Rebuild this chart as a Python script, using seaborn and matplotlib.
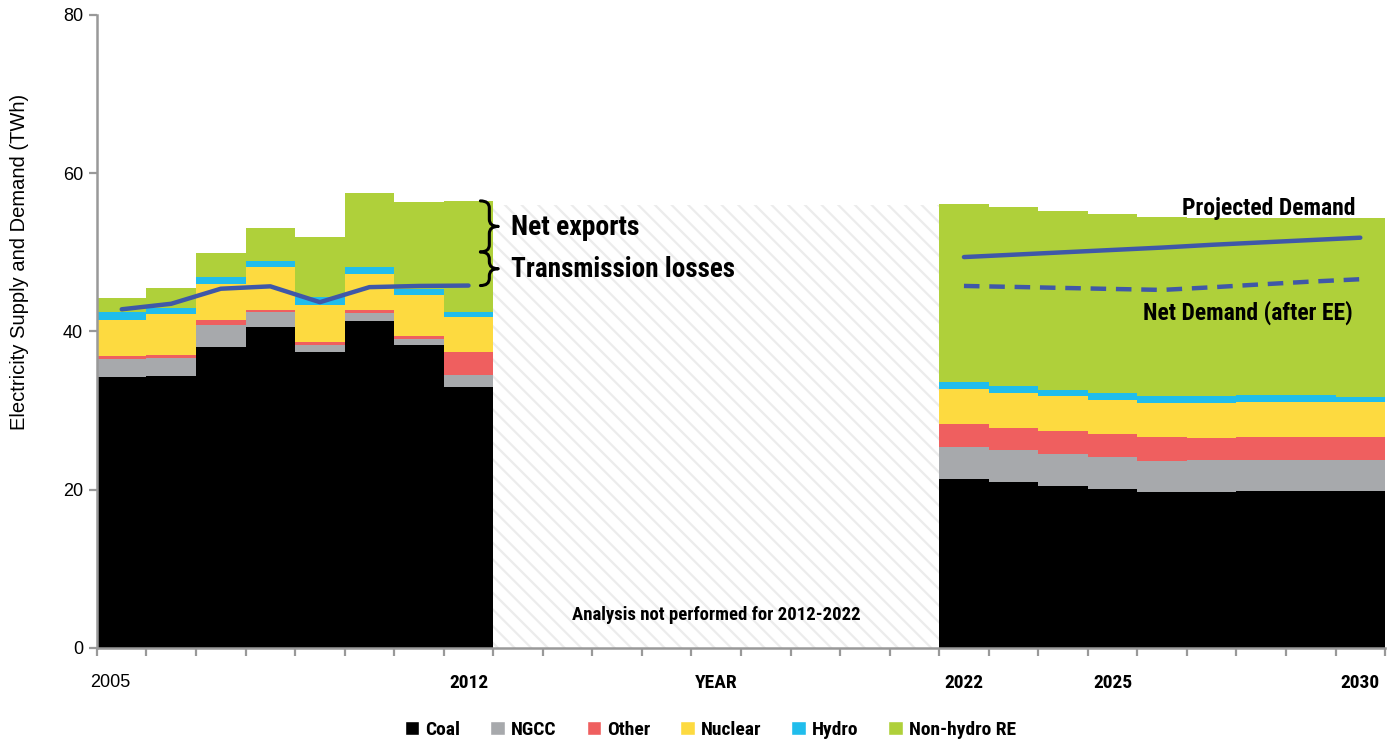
import matplotlib.pyplot as plt
import matplotlib.transforms as mtransforms
import numpy as np
import pandas as pd
import seaborn as sns
from matplotlib.patches import PathPatch, Patch
from matplotlib.path import Path as MPath

sns.set_theme(style="ticks")
plt.rcParams.update(
    {
        "font.family": ["Liberation Sans", "DejaVu Sans"],
        "text.color": "black",
        "axes.labelcolor": "black",
        "hatch.linewidth": 1.6,
        "axes.spines.right": False,
        "axes.spines.top": False,
    }
)
NARROW = ["Roboto Condensed", "Liberation Sans Narrow", "Roboto", "DejaVu Sans"]

YEARS_HIST = [2005, 2006, 2007, 2008, 2009, 2010, 2011, 2012]
YEARS_PROJ = [2022, 2023, 2024, 2025, 2026, 2027, 2028, 2029, 2030]

COAL = [34.3, 34.4, 38.0, 40.5, 37.4, 41.3, 38.25, 33.0,
        21.35, 20.95, 20.5, 20.15, 19.7, 19.75, 19.8, 19.85, 19.85]
NGCC = [2.2, 2.2, 2.8, 1.9, 0.9, 1.05, 0.8, 1.5,
        4.05, 4.04, 4.0, 4.0, 3.95, 4.0, 3.96, 3.96, 3.96]
OTHER = [0.4, 0.45, 0.65, 0.3, 0.4, 0.35, 0.35, 2.9,
         2.9, 2.87, 2.9, 2.86, 2.95, 2.84, 2.91, 2.9, 2.9]
NUCLEAR = [4.55, 5.1, 4.55, 5.4, 4.7, 4.5, 5.2, 4.4,
           4.4, 4.42, 4.4, 4.38, 4.38, 4.4, 4.38, 4.4, 4.4]
HYDRO = [0.95, 0.85, 0.9, 0.8, 0.95, 1.0, 0.8, 0.65,
         0.85, 0.88, 0.85, 0.89, 0.89, 0.9, 0.88, 0.87, 0.66]
NON_HYDRO_RE = [1.8, 2.45, 3.0, 4.2, 7.6, 9.35, 11.0, 14.05,
                22.55, 22.55, 22.6, 22.6, 22.6, 22.5, 22.45, 22.4, 22.55]

DEMAND_HIST = [42.8, 43.5, 45.4, 45.7, 43.7, 45.6, 45.75, 45.8]
DEMAND_PROJ = [49.4, 49.7, 50.0, 50.3, 50.6, 50.95, 51.25, 51.55, 51.85]
NET_DEMAND = [45.75, 45.63, 45.5, 45.37, 45.25, 45.58, 45.95, 46.3, 46.6]

GAP_TOP = 56.0
EXPORT_BOUNDS = [56.5, 50.05, 45.8]

SOURCES = ["Coal", "NGCC", "Other", "Nuclear", "Hydro", "Non-hydro RE"]
PALETTE = {
    "Coal": "#000000",
    "NGCC": "#A7A9AC",
    "Other": "#EF5F5F",
    "Nuclear": "#FDDA40",
    "Hydro": "#20BDEC",
    "Non-hydro RE": "#AFD03A",
}
LINE = "#3F58A8"
TICK_LABELS = {2005: "2005", 2012: "2012", 2017: "YEAR", 2022: "2022", 2025: "2025", 2030: "2030"}


def brace(ax, x, y_top, y_bot, w=0.18, d=0.9):
    ym = (y_top + y_bot) / 2
    verts = [
        (x - w, y_top), (x, y_top), (x, y_top - d),
        (x, ym + d),
        (x, ym), (x + w, ym),
        (x, ym), (x, ym - d),
        (x, y_bot + d),
        (x, y_bot), (x - w, y_bot),
    ]
    codes = [MPath.MOVETO, MPath.CURVE3, MPath.CURVE3, MPath.LINETO,
             MPath.CURVE3, MPath.CURVE3, MPath.CURVE3, MPath.CURVE3,
             MPath.LINETO, MPath.CURVE3, MPath.CURVE3]
    ax.add_patch(PathPatch(MPath(verts, codes), fill=False, lw=2.2, ec="black",
                           capstyle="round", joinstyle="round", zorder=5))


years = YEARS_HIST + YEARS_PROJ
wide = pd.DataFrame({"year": years, "Coal": COAL, "NGCC": NGCC, "Other": OTHER,
                     "Nuclear": NUCLEAR, "Hydro": HYDRO, "Non-hydro RE": NON_HYDRO_RE})
long = wide.melt(id_vars="year", var_name="source", value_name="twh")

fig = plt.figure(figsize=(13.93, 7.43), dpi=100)
ax = fig.add_axes([0.0696, 0.1279, 0.9247, 0.852])

# hatched "no analysis" band
ax.fill_between([2012.5, 2021.5], 0, GAP_TOP, facecolor="white", edgecolor="#ECECEC",
                hatch="\\\\", linewidth=0, zorder=0)

sns.histplot(data=long, x="year", weights="twh", hue="source",
             hue_order=SOURCES[::-1], palette=PALETTE, multiple="stack",
             discrete=True, shrink=1, linewidth=0, alpha=1, legend=False, ax=ax, zorder=2)

sns.lineplot(x=YEARS_HIST, y=DEMAND_HIST, color=LINE, lw=3.2, ax=ax, zorder=4)
sns.lineplot(x=YEARS_PROJ, y=DEMAND_PROJ, color=LINE, lw=3.2, ax=ax, zorder=4)
sns.lineplot(x=YEARS_PROJ, y=NET_DEMAND, color=LINE, lw=3.2, ax=ax, zorder=4)
ax.lines[-1].set_dashes([3.5, 2.2])

brace(ax, 2012.42, EXPORT_BOUNDS[0], EXPORT_BOUNDS[1])
brace(ax, 2012.42, EXPORT_BOUNDS[1], EXPORT_BOUNDS[2])
ax.text(2012.86, (EXPORT_BOUNDS[0] + EXPORT_BOUNDS[1]) / 2 - 0.15, "Net exports",
        family=NARROW, fontweight="bold", fontsize=20, va="center", ha="left")
ax.text(2012.86, (EXPORT_BOUNDS[1] + EXPORT_BOUNDS[2]) / 2 - 0.1, "Transmission losses",
        family=NARROW, fontweight="bold", fontsize=19.5, va="center", ha="left")
ax.text(2029.9, 55.6, "Projected Demand", family=NARROW, fontweight="bold",
        fontsize=17, va="center", ha="right", zorder=6)
ax.text(2029.85, 42.3, "Net Demand (after EE)", family=NARROW, fontweight="bold",
        fontsize=17, va="center", ha="right", zorder=6)
ax.text(2017.0, 4.2, "Analysis not performed for 2012-2022", family=NARROW,
        fontweight="bold", fontsize=13.5, va="center", ha="center")

ax.set_xlim(2004.5, 2030.5)
ax.set_ylim(0, 80)
ax.set_yticks([0, 20, 40, 60, 80])
ax.set_xticks(list(TICK_LABELS))
ax.set_xticklabels(list(TICK_LABELS.values()))
ax.set_xticks(np.arange(2004.5, 2031, 1), minor=True)
ax.tick_params(axis="x", which="major", length=0, pad=19, labelsize=13, labelcolor="black")
ax.tick_params(axis="x", which="minor", length=6, width=1.6, color="#999999")
ax.tick_params(axis="y", length=6, width=1.6, color="#999999", labelsize=13, pad=4,
               labelcolor="black")
for lab in ax.get_xticklabels():
    if lab.get_text() == "2005":
        # the first label sits a bit left of its bar centre in the original
        shift = mtransforms.ScaledTranslation(-8 / 72, 0, fig.dpi_scale_trans)
        lab.set_transform(lab.get_transform() + shift)
    else:
        lab.set_family(NARROW)
        lab.set_fontweight("bold")
        lab.set_fontsize(14)
for sp in ("left", "bottom"):
    ax.spines[sp].set_color("#999999")
    ax.spines[sp].set_linewidth(1.8)
ax.set_xlabel("")
ax.set_ylabel("Electricity Supply and Demand (TWh)", fontsize=14.5)
ax.yaxis.set_label_coords(-0.053, 0.61)

handles = [Patch(facecolor=PALETTE[s], label=s) for s in SOURCES]
leg = fig.legend(handles=handles, loc="lower center", bbox_to_anchor=(0.51, -0.018),
                 ncol=6, frameon=False, handlelength=0.75, handleheight=0.75,
                 handletextpad=0.3, columnspacing=1.55,
                 prop={"family": NARROW, "weight": "bold", "size": 14})

fig.savefig("out.png", dpi=100)
